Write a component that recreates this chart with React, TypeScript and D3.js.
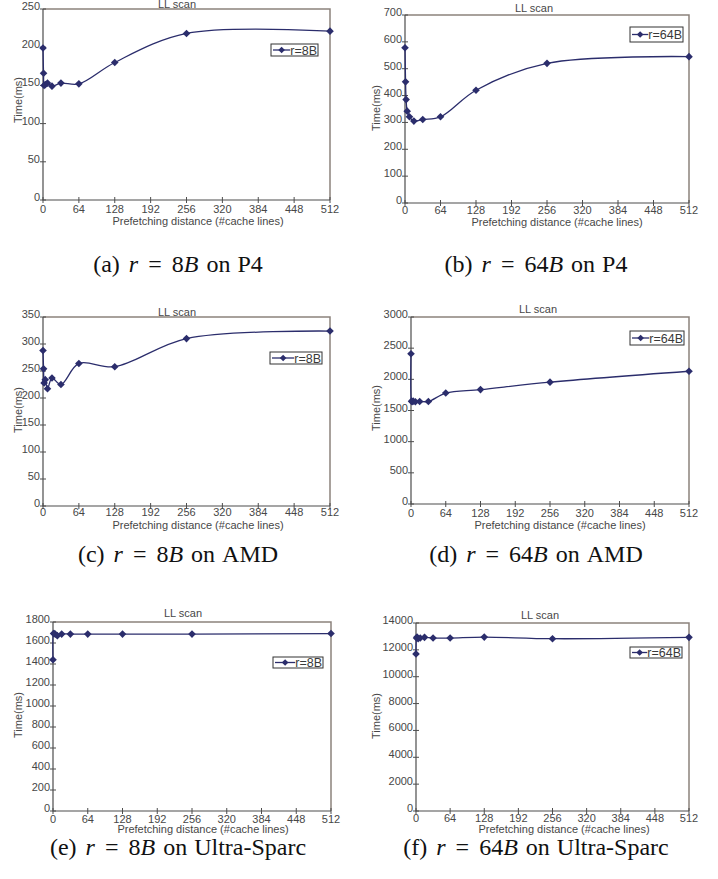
import React, { useRef, useEffect } from 'react';
import * as d3 from 'd3';

// prefetching distances (#cache lines)
const distances = [0, 1, 2, 4, 8, 16, 32, 64, 128, 256, 512];
const xTicks = [0, 64, 128, 192, 256, 320, 384, 448, 512];

// LL scan times (ms)
const p4Small = [199, 166, 150, 151, 153, 149, 153, 152, 180, 218, 221];
const p4Large = [578, 451, 385, 342, 321, 305, 311, 321, 420, 520, 545];
const amdSmall = [288, 254, 228, 234, 217, 237, 225, 264, 258, 310, 324];
const amdLarge = [2410, 1650, 1640, 1650, 1640, 1645, 1645, 1780, 1835, 1955, 2130];
const sparcSmall = [1440, 1690, 1690, 1685, 1670, 1685, 1685, 1685, 1685, 1685, 1690];
const sparcLarge = [11700, 12880, 12950, 12830, 12880, 12930, 12880, 12880, 12950, 12830, 12930];

const yMaxes = [250, 700, 350, 3000, 1800, 14000];
const ySteps = [50, 100, 50, 500, 200, 2000];
const seriesNames = ['r=8B', 'r=64B', 'r=8B', 'r=64B', 'r=8B', 'r=64B'];
const captionLetters = ['a', 'b', 'c', 'd', 'e', 'f'];
const captionSizes = ['8', '64', '8', '64', '8', '64'];
const machines = ['P4', 'P4', 'AMD', 'AMD', 'Ultra-Sparc', 'Ultra-Sparc'];
const allSeries = [p4Small, p4Large, amdSmall, amdLarge, sparcSmall, sparcLarge];

// layout of each panel (pixels)
const boxes = [
  { l: 43, r: 330, t: 9, b: 200, tickDy: 13, titleX: 177, titleY: 8, legend: [271, 44, 47, 12], yLabelY: 100, xLabelX: 198, xLabelY: 225 },
  { l: 405, r: 689, t: 15, b: 203, tickDy: 11, titleX: 534, titleY: 12, legend: [630, 27, 53, 15], yLabelY: 108, xLabelX: 557, xLabelY: 226 },
  { l: 43, r: 330, t: 317, b: 506, tickDy: 9.5, titleX: 177, titleY: 316, legend: [270, 352, 52, 12], yLabelY: 410, xLabelX: 198, xLabelY: 529 },
  { l: 411, r: 689, t: 317, b: 504, tickDy: 13, titleX: 538, titleY: 313, legend: [630, 331, 54, 14], yLabelY: 408, xLabelX: 560, xLabelY: 529 },
  { l: 53, r: 331, t: 622, b: 811, tickDy: 11.5, titleX: 183, titleY: 617, legend: [273, 657, 50, 11], yLabelY: 715, xLabelX: 203, xLabelY: 833 },
  { l: 416, r: 689, t: 623, b: 811, tickDy: 10.5, titleX: 540, titleY: 619, legend: [630, 647, 52, 11], yLabelY: 716, xLabelX: 564, xLabelY: 833 },
];
const captionX = [178, 536, 178, 536, 178, 536];
const captionY = [272, 272, 562, 562, 855, 855];

const lineColor = '#2b2d6c';
const textColor = '#474747';
const sans = 'Liberation Sans, Arial, sans-serif';
const fs = 11;

const diamond = (r: number) => `M0,${-r}L${r},0L0,${r}L${-r},0Z`;

const App = () => {
  const ref = useRef<SVGSVGElement>(null);

  useEffect(() => {
    const svg = d3.select(ref.current);
    svg.selectAll('*').remove();

    boxes.forEach((bx, i) => {
      const values = allSeries[i];
      const x = d3.scaleLinear().domain([0, 512]).range([bx.l, bx.r]);
      const y = d3.scaleLinear().domain([0, yMaxes[i]]).range([bx.b, bx.t]);
      const g = svg.append('g');

      // frame: top/right lighter
      g.append('path')
        .attr('d', `M${bx.l},${bx.t}H${bx.r}V${bx.b}`)
        .attr('fill', 'none')
        .attr('stroke', '#8c827c')
        .attr('stroke-width', 1.5);
      g.append('path')
        .attr('d', `M${bx.l},${bx.t}V${bx.b}H${bx.r}`)
        .attr('fill', 'none')
        .attr('stroke', '#4d4d4d')
        .attr('stroke-width', 1.2);

      // y ticks
      const yTicks = d3.range(0, yMaxes[i] + 1, ySteps[i]);
      yTicks.forEach(v => {
        g.append('line')
          .attr('x1', bx.l - 3).attr('x2', bx.l + 3)
          .attr('y1', y(v)).attr('y2', y(v))
          .attr('stroke', '#4d4d4d');
        g.append('text')
          .attr('x', bx.l - 3)
          .attr('y', y(v) + 1)
          .attr('text-anchor', 'end')
          .attr('font-family', sans)
          .attr('font-size', fs)
          .attr('fill', textColor)
          .text(v);
      });

      // x ticks
      xTicks.forEach(v => {
        g.append('line')
          .attr('x1', x(v)).attr('x2', x(v))
          .attr('y1', bx.b - 3).attr('y2', bx.b + 3)
          .attr('stroke', '#4d4d4d');
        g.append('text')
          .attr('x', x(v))
          .attr('y', bx.b + bx.tickDy)
          .attr('text-anchor', 'middle')
          .attr('font-family', sans)
          .attr('font-size', fs)
          .attr('fill', textColor)
          .text(v);
      });

      // labels
      g.append('text')
        .attr('x', bx.titleX).attr('y', bx.titleY)
        .attr('text-anchor', 'middle')
        .attr('font-family', sans).attr('font-size', fs)
        .attr('fill', textColor)
        .text('LL scan');
      g.append('text')
        .attr('x', bx.xLabelX).attr('y', bx.xLabelY)
        .attr('text-anchor', 'middle')
        .attr('font-family', sans).attr('font-size', fs)
        .attr('fill', textColor)
        .text('Prefetching distance (#cache lines)');
      const yl = (i % 2 === 0 ? 0 : 358) + 22;
      g.append('text')
        .attr('transform', `translate(${yl},${bx.yLabelY}) rotate(-90)`)
        .attr('text-anchor', 'middle')
        .attr('font-family', sans).attr('font-size', fs)
        .attr('fill', textColor)
        .text('Time(ms)');

      // series
      const pts = distances.map((d, k) => [x(d), y(values[k])] as [number, number]);
      g.append('path')
        .attr('d', d3.line().curve(d3.curveCatmullRom.alpha(0.5))(pts))
        .attr('fill', 'none')
        .attr('stroke', lineColor)
        .attr('stroke-width', 1.3);
      g.selectAll('.mk')
        .data(pts)
        .enter()
        .append('path')
        .attr('d', diamond(3.8))
        .attr('transform', d => `translate(${d[0]},${d[1]})`)
        .attr('fill', lineColor);

      // legend: text right-aligned in box, line sample fills the rest
      const [lx, ly, lw, lh] = bx.legend;
      g.append('rect')
        .attr('x', lx).attr('y', ly).attr('width', lw).attr('height', lh)
        .attr('fill', 'white').attr('stroke', '#333').attr('stroke-width', 1);
      const lt = g.append('text')
        .attr('x', lx + lw - 1).attr('y', ly + lh / 2 + 4.5)
        .attr('text-anchor', 'end')
        .attr('font-family', sans).attr('font-size', 12.5)
        .attr('fill', '#3a3a3a')
        .text(seriesNames[i]);
      const tw = (lt.node() as SVGTextElement).getComputedTextLength();
      const lineEnd = lx + lw - 1 - tw;
      g.append('line')
        .attr('x1', lx + 2).attr('x2', lineEnd)
        .attr('y1', ly + lh / 2).attr('y2', ly + lh / 2)
        .attr('stroke', lineColor).attr('stroke-width', 1.3);
      g.append('path')
        .attr('d', diamond(3.3))
        .attr('transform', `translate(${(lx + 2 + lineEnd) / 2},${ly + lh / 2})`)
        .attr('fill', lineColor);

      // caption
      const cap = g.append('text')
        .attr('x', captionX[i]).attr('y', captionY[i])
        .attr('text-anchor', 'middle')
        .attr('font-family', 'Liberation Serif, Times New Roman, serif')
        .attr('font-size', 24)
        .attr('fill', '#111')
        .style('white-space', 'pre');
      cap.append('tspan').text(`(${captionLetters[i]})`);
      cap.append('tspan').attr('dx', 9).attr('font-style', 'italic').text('r');
      cap.append('tspan').attr('dx', 10).text('=');
      cap.append('tspan').attr('dx', 10).text(captionSizes[i]);
      cap.append('tspan').attr('font-style', 'italic').text('B');
      cap.append('tspan').attr('dx', 8).text('on');
      cap.append('tspan').attr('dx', 7).text(machines[i]);
    });
  }, []);

  return (
    <svg ref={ref} width={718} height={879} style={{ position: 'absolute', left: 0, top: 0, background: 'white' }} />
  );
};

export default App;
